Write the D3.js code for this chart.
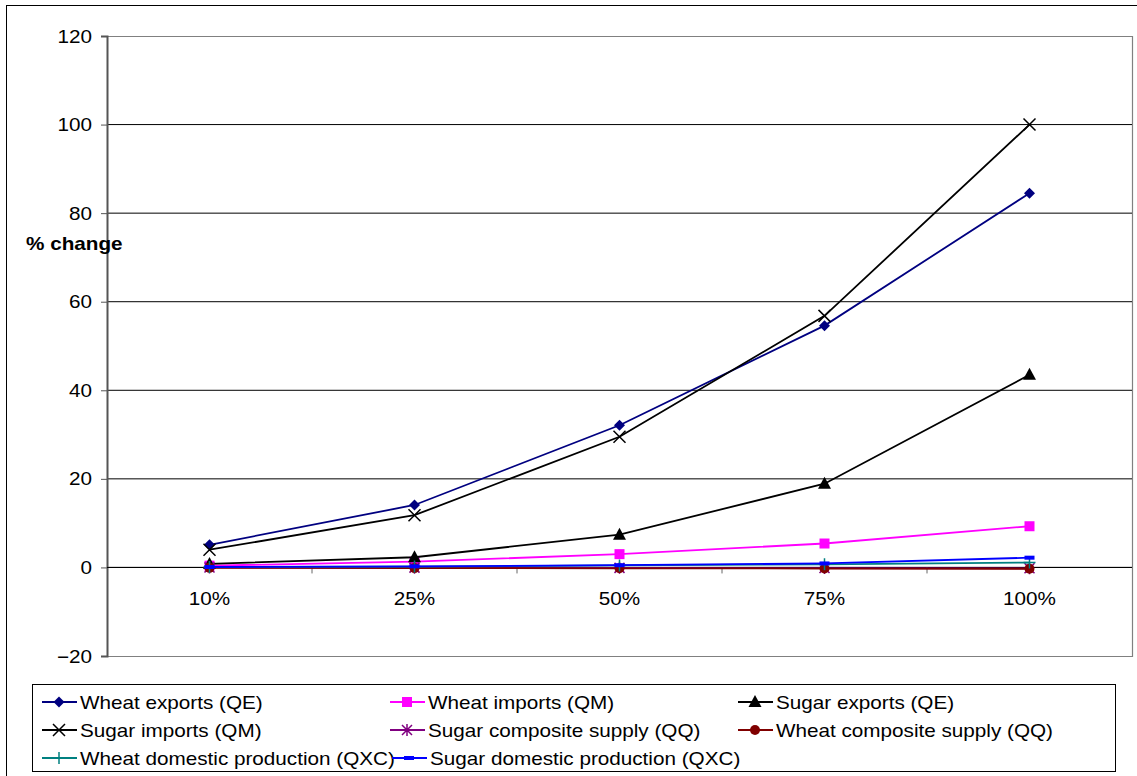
<!DOCTYPE html>
<html>
<head>
<meta charset="utf-8">
<script src="https://cdn.jsdelivr.net/npm/d3@7"></script>
<style>
  html, body { margin: 0; padding: 0; background: #fff; }
  svg { display: block; font-family: "Liberation Sans", Arial, sans-serif; }
</style>
</head>
<body>
<svg id="chart" width="1137" height="776"></svg>
<script>
// Categories (shock size) and y-axis ticks
const categories = ["10%", "25%", "50%", "75%", "100%"];
const yTicks = [-20, 0, 20, 40, 60, 80, 100, 120];

// Percentage change in each quantity
const wheatExports = [5.1, 14.1, 32.1, 54.6, 84.5];
const wheatImports = [0.4, 1.3, 3.0, 5.4, 9.3];
const sugarExports = [0.8, 2.3, 7.4, 18.9, 43.5];
const sugarImports = [4.0, 11.8, 29.5, 56.8, 100.0];
const sugarComposite = [0.0, -0.05, -0.1, -0.15, -0.2];
const wheatComposite = [-0.1, -0.15, -0.2, -0.25, -0.3];
const wheatDomestic = [0.1, 0.2, 0.45, 0.7, 1.1];
const sugarDomestic = [0.1, 0.25, 0.5, 0.9, 2.2];

const seriesNames = [
  "Wheat exports (QE)", "Wheat imports (QM)", "Sugar exports (QE)",
  "Sugar imports (QM)", "Sugar composite supply (QQ)", "Wheat composite supply (QQ)",
  "Wheat domestic production (QXC)", "Sugar domestic production (QXC)"
];
const seriesValues = [wheatExports, wheatImports, sugarExports, sugarImports,
  sugarComposite, wheatComposite, wheatDomestic, sugarDomestic];
const seriesColors = ["#000080", "#FF00FF", "#000000", "#000000",
  "#800080", "#800000", "#008080", "#0000FF"];
const seriesMarkers = ["diamond", "square", "triangle", "x", "star", "circle", "plus", "dash"];

const svg = d3.select("#chart");
const FONT = 18;      // text size
const STRETCH = 1.15; // horizontal widening of the text face

// Text placed at (x, y) with a slightly widened face
function label(parent, x, y, str, anchor = "start", weight = "normal") {
  return parent.append("text")
    .attr("transform", `translate(${x},${y}) scale(${STRETCH},1)`)
    .attr("text-anchor", anchor)
    .attr("font-size", FONT)
    .attr("font-weight", weight)
    .attr("fill", "#000")
    .text(str);
}

// Outer chart frame
svg.append("rect")
  .attr("x", 6.5).attr("y", 5.5).attr("width", 1140).attr("height", 780)
  .attr("fill", "none").attr("stroke", "#000").attr("stroke-width", 1);

const plot = { left: 107, right: 1132, top: 36, bottom: 656 };

const x = d3.scaleBand().domain(categories).range([plot.left, plot.right]).padding(0);
const y = d3.scaleLinear().domain([-20, 120]).range([plot.bottom, plot.top]);
const cx = c => x(c) + x.bandwidth() / 2;

// Plot-area border (top, right, bottom)
svg.append("path")
  .attr("d", `M${plot.left},${plot.top + 0.5}H${plot.right + 0.5}V${plot.bottom + 0.5}H${plot.left}`)
  .attr("fill", "none").attr("stroke", "#808080").attr("stroke-width", 1.2);

// Horizontal gridlines
svg.append("g")
  .selectAll("line")
  .data(yTicks.filter(d => d > -20 && d < 120))
  .join("line")
  .attr("x1", plot.left).attr("x2", plot.right)
  .attr("y1", d => y(d)).attr("y2", d => y(d))
  .attr("stroke", "#000").attr("stroke-width", 1);

// Y axis
const yAxis = d3.axisLeft(y).tickValues(yTicks).tickSize(6).tickFormat("");
const gy = svg.append("g").attr("transform", `translate(${plot.left},0)`).call(yAxis);
gy.select(".domain").attr("stroke", "#555").attr("stroke-width", 2);
gy.selectAll(".tick line").attr("stroke", "#555");
gy.selectAll(".tick").each(function(d) {
  label(d3.select(this), -15, 6, d3.format("d")(d), "end");
});

// X axis along the zero line, ticks between categories
const gx = svg.append("g").attr("transform", `translate(0,${y(0)})`);
gx.append("line").attr("x1", plot.left).attr("x2", plot.right).attr("stroke", "#000");
gx.selectAll(".sep")
  .data(categories.slice(1))
  .join("line")
  .attr("x1", d => x(d)).attr("x2", d => x(d))
  .attr("y1", 0).attr("y2", 6)
  .attr("stroke", "#666");
categories.forEach(c => label(gx, cx(c), 38, c, "middle"));

// Axis title
label(svg, 26, 250, "% change", "start", "bold");

// Marker drawing
function drawMarker(g, type, color) {
  switch (type) {
    case "diamond":
      g.append("path").attr("d", "M0,-5.5L5.5,0L0,5.5L-5.5,0Z").attr("fill", color);
      break;
    case "square":
      g.append("rect").attr("x", -5).attr("y", -5).attr("width", 10).attr("height", 10).attr("fill", color);
      break;
    case "triangle":
      g.append("path").attr("d", "M0,-7L6.5,5L-6.5,5Z").attr("fill", color);
      break;
    case "x":
      g.append("path").attr("d", "M-6,-6L6,6M-6,6L6,-6").attr("stroke", color).attr("stroke-width", 1.5);
      break;
    case "star":
      g.append("path").attr("d", "M-5,-5L5,5M-5,5L5,-5M0,-6V6").attr("stroke", color).attr("stroke-width", 1.5);
      break;
    case "circle":
      g.append("circle").attr("r", 5).attr("fill", color);
      break;
    case "plus":
      g.append("path").attr("d", "M-6,0H6M0,-6V6").attr("stroke", color).attr("stroke-width", 1.5);
      break;
    case "dash":
      g.append("rect").attr("x", -5).attr("y", -2).attr("width", 10).attr("height", 4).attr("fill", color);
      break;
  }
}

const line = d3.line()
  .x((d, i) => cx(categories[i]))
  .y(d => y(d));

// Series lines and markers
seriesValues.forEach((vals, si) => {
  const g = svg.append("g");
  g.append("path")
    .datum(vals)
    .attr("d", line)
    .attr("fill", "none")
    .attr("stroke", seriesColors[si])
    .attr("stroke-width", 1.8);
  vals.forEach((v, i) => {
    const m = g.append("g").attr("transform", `translate(${cx(categories[i])},${y(v)})`);
    drawMarker(m, seriesMarkers[si], seriesColors[si]);
  });
});

// Legend
svg.append("rect")
  .attr("x", 32.5).attr("y", 684.5).attr("width", 1083).attr("height", 87)
  .attr("fill", "#fff").attr("stroke", "#000").attr("stroke-width", 1);

const legendPos = [
  [42, 702], [390, 702], [738, 702],
  [42, 730], [390, 730], [738, 730],
  [42, 758], [392, 758]
];
seriesNames.forEach((name, si) => {
  const [lx, ly] = legendPos[si];
  const g = svg.append("g").attr("transform", `translate(${lx},${ly})`);
  g.append("line").attr("x1", 0).attr("x2", 35).attr("y1", 0).attr("y2", 0)
    .attr("stroke", seriesColors[si]).attr("stroke-width", 1.8);
  const m = g.append("g").attr("transform", "translate(17,0)");
  drawMarker(m, seriesMarkers[si], seriesColors[si]);
  label(g, 38, 7, name);
});
</script>
</body>
</html>
